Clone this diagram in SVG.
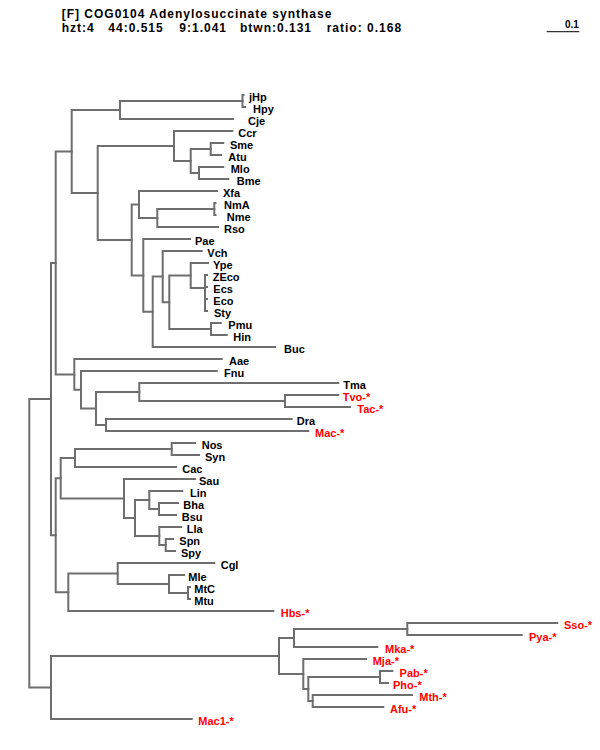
<svg xmlns="http://www.w3.org/2000/svg" width="600" height="750" viewBox="0 0 600 750">
<style>
text{font-family:"Liberation Sans",Arial,Helvetica,sans-serif;font-weight:bold;fill:#000}
.hd{font-size:12px;letter-spacing:1px}
.lf{font-size:11px}
.r{fill:#ff0000}
.br{fill:none;stroke:#6e6e6e;stroke-width:2;stroke-linecap:square}
</style>
<rect width="600" height="750" fill="#ffffff"/>
<g id="header">
<text class="hd" x="61.7" y="18.3">[F] COG0104 Adenylosuccinate synthase</text>
<text class="hd" x="61.7" y="31.5">hzt:4</text>
<text class="hd" x="108.3" y="31.5">44:0.515</text>
<text class="hd" x="179.3" y="31.5">9:1.041</text>
<text class="hd" x="240" y="31.5">btwn:0.131</text>
<text class="hd" x="326.7" y="31.5">ratio: 0.168</text>
</g>
<g id="scalebar">
<line x1="546.7" y1="31.7" x2="579.3" y2="31.7" stroke="#333" stroke-width="1.3"/>
<text x="565" y="27.5" style="font-size:10px">0.1</text>
</g>
<g id="connectors" class="br">
<path d="M29.3,399V687.5M29.3,399H51M29.3,687.5H51"/>
<path d="M51,263V535.3M51,263H55.7M51,535.3H55.7"/>
<path d="M55.7,151.5V374.4M55.7,151.5H71.7M55.7,374.4H74.3"/>
<path d="M71.7,110V193M71.7,110H120M71.7,193H97.7"/>
<path d="M120,101V119M120,101H242.5M120,119H233"/>
<path d="M242.5,95V107M242.5,95H243.5M242.5,107H245"/>
<path d="M97.7,146V240M97.7,146H174M97.7,240H131.7"/>
<path d="M174,131V161M174,131H232.3M174,161H190.7"/>
<path d="M190.7,149V173M190.7,149H210.7M190.7,173H199"/>
<path d="M210.7,143V155M210.7,143H223.3M210.7,155H221"/>
<path d="M199,167V179M199,167H223.3M199,179H228.3"/>
<path d="M131.7,204.5V275.4M131.7,204.5H139M131.7,275.4H143.3"/>
<path d="M139,191V218M139,191H217M139,218H157.3"/>
<path d="M157.3,209V227M157.3,209H214.3M157.3,227H218"/>
<path d="M214.3,203V215M214.3,203H215.5M214.3,215H215.5"/>
<path d="M143.3,239V311.8M143.3,239H190M143.3,311.8H152.7"/>
<path d="M152.7,276.6V347M152.7,276.6H162.7M152.7,347H275"/>
<path d="M162.7,251V302.3M162.7,251H201.7M162.7,302.3H169.3"/>
<path d="M169.3,275.5V329M169.3,275.5H190.7M169.3,329H211"/>
<path d="M190.7,263V288M190.7,263H208M190.7,288H205"/>
<path d="M205,275V311M205,275H207M205,287H207M205,299H207M205,311H207"/>
<path d="M211,323V335M211,323H220.7M211,335H226.7"/>
<path d="M74.3,359V389.8M74.3,359H221.7M74.3,389.8H81"/>
<path d="M81,371V408.5M81,371H216.7M81,408.5H96"/>
<path d="M96,392V425M96,392H139.3M96,425H106"/>
<path d="M139.3,383V401M139.3,383H338.3M139.3,401H285"/>
<path d="M285,395V407M285,395H338.3M285,407H350"/>
<path d="M106,419V431M106,419H291.7M106,431H308.3"/>
<path d="M55.7,478.3V592.3M55.7,478.3H60.7M55.7,592.3H68.3"/>
<path d="M60.7,458V498.5M60.7,458H75M60.7,498.5H124"/>
<path d="M75,449V467M75,449H171.7M75,467H176"/>
<path d="M171.7,443V455M171.7,443H195M171.7,455H199"/>
<path d="M124,479V518M124,479H195M124,518H135"/>
<path d="M135,500V536M135,500H149.3M135,536H159.3"/>
<path d="M149.3,491V509M149.3,491H182.3M149.3,509H159"/>
<path d="M159,503V515M159,503H178M159,515H176"/>
<path d="M159.3,527V545M159.3,527H181M159.3,545H165.7"/>
<path d="M165.7,539V551M165.7,539H173M165.7,551H175"/>
<path d="M68.3,573.5V611M68.3,573.5H117.7M68.3,611H273.3"/>
<path d="M117.7,563V584M117.7,563H214.3M117.7,584H169"/>
<path d="M169,575V593M169,575H184M169,593H188"/>
<path d="M188,587V599M188,587H190M188,599H190"/>
<path d="M51,656V719M51,656H279M51,719H191.7"/>
<path d="M279,638V674M279,638H294M279,674H303.3"/>
<path d="M294,629V647M294,629H407.3M294,647H377.3"/>
<path d="M407.3,623V635M407.3,623H557.3M407.3,635H521.7"/>
<path d="M303.3,659V689M303.3,659H366M303.3,689H308.3"/>
<path d="M308.3,677V701M308.3,677H380M308.3,701H312.7"/>
<path d="M380,671V683M380,671H392.3M380,683H388"/>
<path d="M312.7,695V707M312.7,695H412M312.7,707H383.3"/>
</g>
<g class="lf">
<g id="jHp"><text class="lf" x="249" y="100.5">jHp</text></g>
<g id="Hpy"><text class="lf" x="253" y="112.5">Hpy</text></g>
<g id="Cje"><text class="lf" x="248" y="124.5">Cje</text></g>
<g id="Ccr"><text class="lf" x="238.3" y="136.5">Ccr</text></g>
<g id="Sme"><text class="lf" x="230" y="148.5">Sme</text></g>
<g id="Atu"><text class="lf" x="228.3" y="160.5">Atu</text></g>
<g id="Mlo"><text class="lf" x="230.7" y="172.5">Mlo</text></g>
<g id="Bme"><text class="lf" x="236.7" y="184.5">Bme</text></g>
<g id="Xfa"><text class="lf" x="223" y="196.5">Xfa</text></g>
<g id="NmA"><text class="lf" x="224" y="208.5">NmA</text></g>
<g id="Nme"><text class="lf" x="226.7" y="220.5">Nme</text></g>
<g id="Rso"><text class="lf" x="224" y="232.5">Rso</text></g>
<g id="Pae"><text class="lf" x="195" y="244.5">Pae</text></g>
<g id="Vch"><text class="lf" x="207.3" y="256.5">Vch</text></g>
<g id="Ype"><text class="lf" x="213" y="268.5">Ype</text></g>
<g id="ZEco"><text class="lf" x="212.7" y="280.5">ZEco</text></g>
<g id="Ecs"><text class="lf" x="213.3" y="292.5">Ecs</text></g>
<g id="Eco"><text class="lf" x="213.3" y="304.5">Eco</text></g>
<g id="Sty"><text class="lf" x="214" y="316.5">Sty</text></g>
<g id="Pmu"><text class="lf" x="228.3" y="328.5">Pmu</text></g>
<g id="Hin"><text class="lf" x="233.3" y="340.5">Hin</text></g>
<g id="Buc"><text class="lf" x="284" y="352.5">Buc</text></g>
<g id="Aae"><text class="lf" x="229" y="364.5">Aae</text></g>
<g id="Fnu"><text class="lf" x="224" y="376.5">Fnu</text></g>
<g id="Tma"><text class="lf" x="343.3" y="388.5">Tma</text></g>
<g id="Tvo"><text class="lf r" x="342.7" y="400.5">Tvo-*</text></g>
<g id="Tac"><text class="lf r" x="357.3" y="412.5">Tac-*</text></g>
<g id="Dra"><text class="lf" x="296.7" y="424.5">Dra</text></g>
<g id="Mac"><text class="lf r" x="315" y="436.5">Mac-*</text></g>
<g id="Nos"><text class="lf" x="201.7" y="448.5">Nos</text></g>
<g id="Syn"><text class="lf" x="205" y="460.5">Syn</text></g>
<g id="Cac"><text class="lf" x="182.3" y="472.5">Cac</text></g>
<g id="Sau"><text class="lf" x="199" y="484.5">Sau</text></g>
<g id="Lin"><text class="lf" x="190" y="496.5">Lin</text></g>
<g id="Bha"><text class="lf" x="183.3" y="508.5">Bha</text></g>
<g id="Bsu"><text class="lf" x="181.7" y="520.5">Bsu</text></g>
<g id="Lla"><text class="lf" x="186.7" y="532.5">Lla</text></g>
<g id="Spn"><text class="lf" x="179.3" y="544.5">Spn</text></g>
<g id="Spy"><text class="lf" x="181" y="556.5">Spy</text></g>
<g id="Cgl"><text class="lf" x="220.7" y="568.5">Cgl</text></g>
<g id="Mle"><text class="lf" x="188.3" y="580.5">Mle</text></g>
<g id="MtC"><text class="lf" x="194.3" y="592.5">MtC</text></g>
<g id="Mtu"><text class="lf" x="194.3" y="604.5">Mtu</text></g>
<g id="Hbs"><text class="lf r" x="280.7" y="616.5">Hbs-*</text></g>
<g id="Sso"><text class="lf r" x="564" y="628.5">Sso-*</text></g>
<g id="Pya"><text class="lf r" x="529" y="640.5">Pya-*</text></g>
<g id="Mka"><text class="lf r" x="385" y="652.5">Mka-*</text></g>
<g id="Mja"><text class="lf r" x="372.7" y="664.5">Mja-*</text></g>
<g id="Pab"><text class="lf r" x="399.6" y="676.5">Pab-*</text></g>
<g id="Pho"><text class="lf r" x="393" y="688.5">Pho-*</text></g>
<g id="Mth"><text class="lf r" x="419.3" y="700.5">Mth-*</text></g>
<g id="Afu"><text class="lf r" x="390" y="712.5">Afu-*</text></g>
<g id="Mac1"><text class="lf r" x="198.3" y="724.5">Mac1-*</text></g>
</g>
</svg>
